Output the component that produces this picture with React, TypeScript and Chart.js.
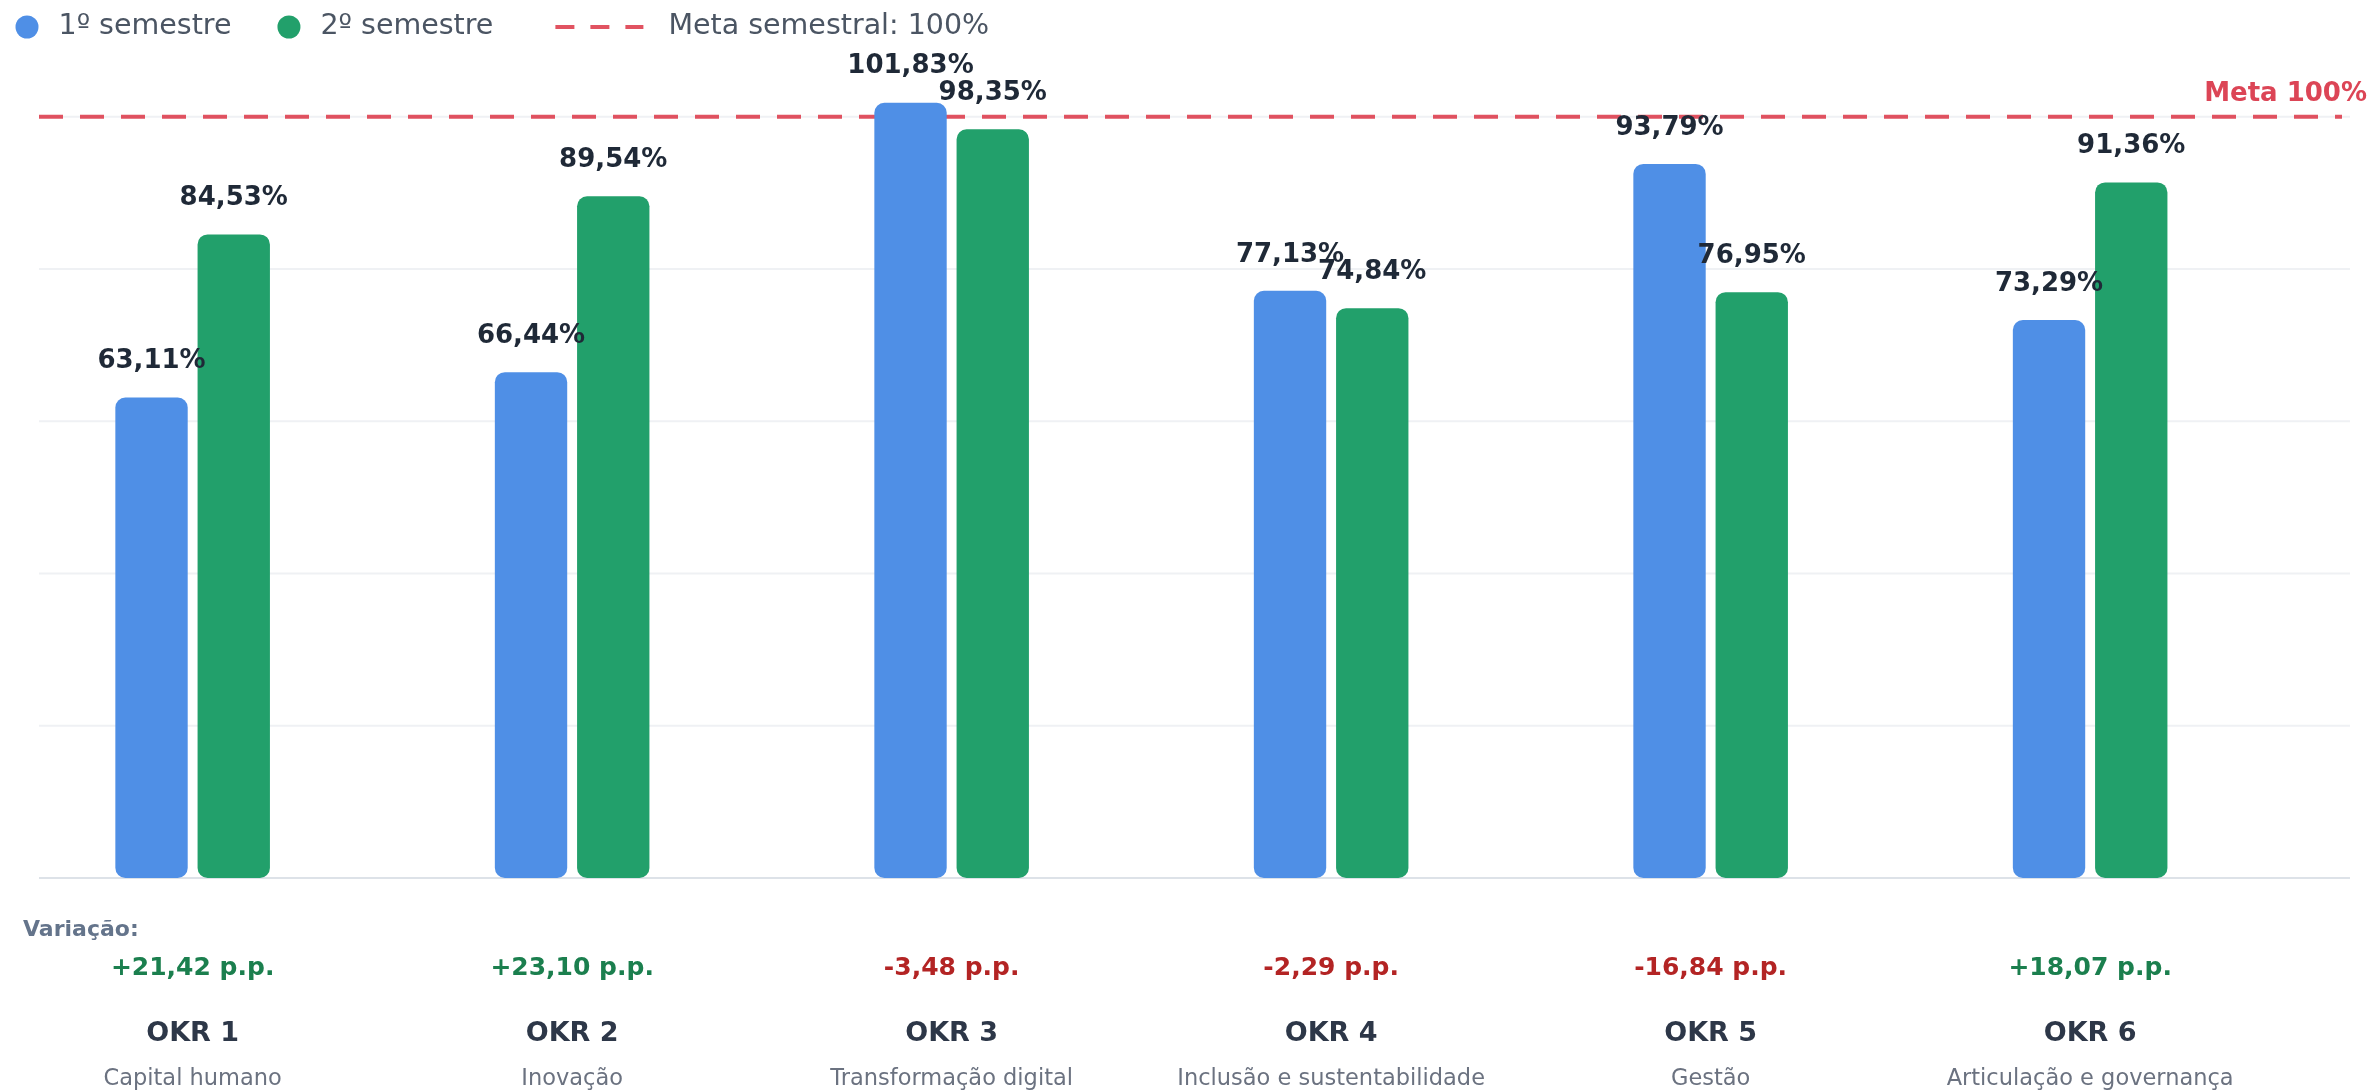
import React, { useEffect, useRef } from 'react';
import { Chart, registerables } from 'chart.js';

Chart.register(...registerables);

// ---------- data ----------
const categories = ['OKR 1', 'OKR 2', 'OKR 3', 'OKR 4', 'OKR 5', 'OKR 6'];
const subtitles = [
  'Capital humano',
  'Inovação',
  'Transformação digital',
  'Inclusão e sustentabilidade',
  'Gestão',
  'Articulação e governança',
];
const semester1 = [63.11, 66.44, 101.83, 77.13, 93.79, 73.29];
const semester2 = [84.53, 89.54, 98.35, 74.84, 76.95, 91.36];
const variation = [21.42, 23.1, -3.48, -2.29, -16.84, 18.07];
const seriesLabels = ['1º semestre', '2º semestre', 'Meta semestral: 100%'];
const metaValue = 100;
const metaLabel = 'Meta 100%';
const variationTitle = 'Variação:';
const yMax = 110;
const yStep = 20;

// ---------- styles ----------
const W = 2364;
const H = 1084;
const FONT = "'DejaVu Sans', sans-serif";
const BLUE = '#4f8fe6';
const GREEN = '#22a06b';
const META = 'rgba(220, 53, 69, 0.85)';
const META_TEXT = '#dc4556';
const POS = '#1b7f4e';
const NEG = '#b32424';

const fmt = (v: number) => v.toFixed(2).replace('.', ',');

const overlayPlugin = {
  id: 'overlay',
  beforeDatasetsDraw(chart: any) {
    const { ctx, chartArea: a } = chart;
    const y = chart.scales.y;
    ctx.save();
    // grid lines
    y.ticks.forEach((t: any) => {
      const py = y.getPixelForValue(t.value);
      ctx.strokeStyle = t.value === 0 ? '#dde2e8' : '#eff1f4';
      ctx.lineWidth = 2;
      ctx.beginPath();
      ctx.moveTo(a.left - 5, py);
      ctx.lineTo(a.right + 29, py);
      ctx.stroke();
    });
    // meta line
    const my = y.getPixelForValue(metaValue);
    ctx.setLineDash([24, 17]);
    ctx.lineWidth = 4;
    ctx.strokeStyle = META;
    ctx.beginPath();
    ctx.moveTo(a.left - 5, my);
    ctx.lineTo(a.right + 21, my);
    ctx.stroke();
    ctx.setLineDash([]);
    ctx.font = `bold 26px ${FONT}`;
    ctx.fillStyle = META_TEXT;
    ctx.textAlign = 'right';
    ctx.textBaseline = 'alphabetic';
    ctx.fillText(metaLabel, a.right + 46, my - 16);
    ctx.restore();
  },
  afterDatasetsDraw(chart: any) {
    const { ctx } = chart;
    ctx.save();
    ctx.font = `bold 26px ${FONT}`;
    ctx.fillStyle = '#1f2937';
    ctx.textAlign = 'center';
    ctx.textBaseline = 'middle';
    [0, 1].forEach((di) => {
      const meta = chart.getDatasetMeta(di);
      const data = chart.data.datasets[di].data as number[];
      meta.data.forEach((el: any, i: number) => {
        ctx.fillText(fmt(data[i]) + '%', el.x, el.y - 36);
      });
    });
    ctx.restore();
  },
  afterDraw(chart: any) {
    const { ctx, chartArea: a } = chart;
    ctx.save();
    // legend
    let x = 7.5;
    const cy = 19;
    ctx.font = `28.5px ${FONT}`;
    ctx.textBaseline = 'middle';
    ctx.textAlign = 'left';
    chart.data.datasets.forEach((ds: any) => {
      if (ds.borderDash) {
        x += 16;
        ctx.strokeStyle = ds.borderColor;
        ctx.lineWidth = 4;
        ctx.setLineDash(ds.borderDash);
        ctx.beginPath();
        ctx.moveTo(x, cy);
        ctx.lineTo(x + 88, cy);
        ctx.stroke();
        ctx.setLineDash([]);
        x += 88 + 25;
      } else {
        ctx.fillStyle = ds.backgroundColor;
        ctx.beginPath();
        ctx.arc(x + 11.5, cy, 11.5, 0, Math.PI * 2);
        ctx.fill();
        x += 23 + 20;
      }
      ctx.fillStyle = '#4b5563';
      ctx.fillText(ds.label, x, cy);
      x += ctx.measureText(ds.label).width + 46;
    });

    // category labels below the axis
    const m0 = chart.getDatasetMeta(0);
    const m1 = chart.getDatasetMeta(1);
    ctx.textAlign = 'left';
    ctx.font = `bold 22px ${FONT}`;
    ctx.fillStyle = '#64748b';
    ctx.fillText(variationTitle, 15, a.bottom + 52);
    ctx.textAlign = 'center';
    categories.forEach((c, i) => {
      const cx = (m0.data[i].x + m1.data[i].x) / 2;
      const v = variation[i];
      ctx.font = `bold 25px ${FONT}`;
      ctx.fillStyle = v >= 0 ? POS : NEG;
      ctx.fillText((v > 0 ? '+' : '') + fmt(v) + ' p.p.', cx, a.bottom + 90);
      ctx.font = `bold 27px ${FONT}`;
      ctx.fillStyle = '#2d3748';
      ctx.fillText(c, cx, a.bottom + 156);
      ctx.font = `22.5px ${FONT}`;
      ctx.fillStyle = '#6b7280';
      ctx.fillText(subtitles[i], cx, a.bottom + 201);
    });
    ctx.restore();
  },
};

export default function App() {
  const ref = useRef<HTMLCanvasElement>(null);

  useEffect(() => {
    if (!ref.current) return;
    Chart.defaults.font.family = FONT;
    const barCommon = {
      borderRadius: 10,
      borderSkipped: false as const,
      categoryPercentage: 0.65,
      barPercentage: 0.88,
    };
    const chart = new Chart(ref.current, {
      type: 'bar',
      data: {
        labels: categories,
        datasets: [
          { label: seriesLabels[0], data: semester1, backgroundColor: BLUE, ...barCommon },
          { label: seriesLabels[1], data: semester2, backgroundColor: GREEN, ...barCommon },
          {
            label: seriesLabels[2],
            data: categories.map(() => null),
            backgroundColor: 'transparent',
            borderColor: META,
            borderDash: [19, 16],
            ...barCommon,
          } as any,
        ],
      },
      options: {
        responsive: false,
        animation: false,
        devicePixelRatio: 1,
        layout: { padding: { left: 0, right: 51, top: 32.5, bottom: 214 } },
        plugins: {
          legend: { display: false },
          tooltip: { enabled: false },
          title: { display: false },
        },
        scales: {
          x: { display: false, offset: true },
          y: {
            min: 0,
            max: yMax,
            ticks: {
              stepSize: yStep,
              includeBounds: false,
              padding: 32,
              color: '#6b7280',
              font: { size: 20 },
              callback: (v: any) => v + '%',
            },
            grid: { display: false },
            border: { display: false },
            afterFit: (s: any) => {
              s.width = 36;
              s.paddingTop = 0;
              s.paddingBottom = 0;
            },
          },
        },
      },
      plugins: [overlayPlugin],
    });
    return () => chart.destroy();
  }, []);

  return (
    <div style={{ position: 'fixed', left: 8, top: 8, width: W, height: H, background: '#fff' }}>
      <canvas ref={ref} width={W} height={H} style={{ display: 'block', width: W, height: H }} />
    </div>
  );
}
